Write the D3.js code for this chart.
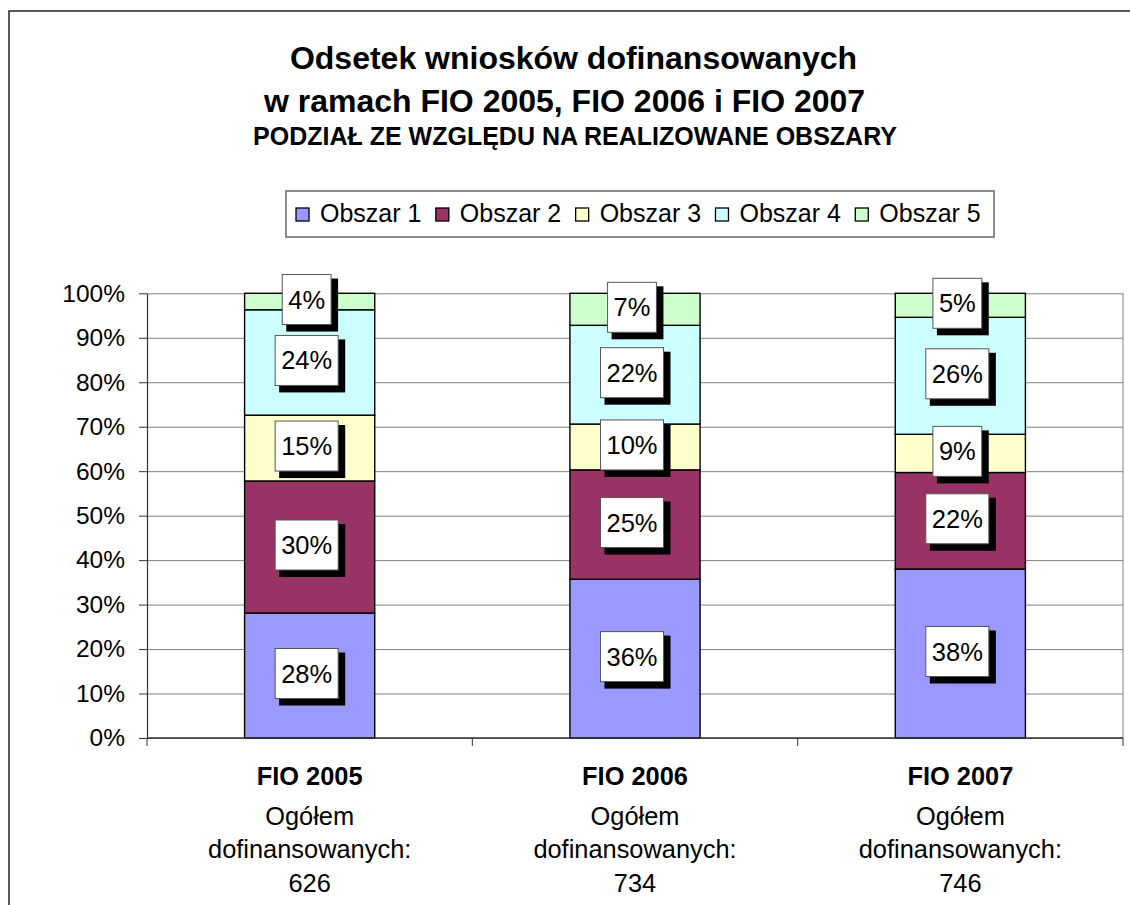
<!DOCTYPE html>
<html>
<head>
  <meta charset="utf-8">
  <script src="https://d3js.org/d3.v7.min.js"></script>
  <style>
  body {
    margin: 0;
    background: #fff;
  }
  text {
    font-family: Arial, "Liberation Sans", sans-serif;
    fill: #000;
  }
  .grid line {
    stroke: #808080;
  }
</style>
</head>
<body>
<script>

  // data
  var categories = ["FIO 2005", "FIO 2006", "FIO 2007"];
  var totals = [626, 734, 746];
  var seriesNames = ["Obszar 1", "Obszar 2", "Obszar 3", "Obszar 4", "Obszar 5"];
  var obszar1 = [28.1, 35.7, 38.0];
  var obszar2 = [29.7, 24.6, 21.7];
  var obszar3 = [14.8, 10.3, 8.6];
  var obszar4 = [23.7, 22.2, 26.3];
  var obszar5 = [3.7, 7.2, 5.4];
  var yTicks = [0, 10, 20, 30, 40, 50, 60, 70, 80, 90, 100];
  var colors = ["#9999ff", "#993366", "#ffffcc", "#ccffff", "#ccffcc"];

  var W = 1130, H = 905;
  var plot = {left: 147, right: 1123, top: 293.3, bottom: 738};

  var svg = d3.select("body").append("svg")
    .attr("width", W)
    .attr("height", H);

  svg.append("rect").attr("width", W).attr("height", H).attr("fill", "#fff");

  // outer chart border (runs off the picture right and bottom)
  svg.append("rect")
    .attr("x", 9).attr("y", 11)
    .attr("width", 1200).attr("height", 1000)
    .attr("fill", "none")
    .attr("stroke", "#222")
    .attr("stroke-width", 1.5);

  // titles
  svg.append("text").attr("x", 573.5).attr("y", 69)
    .attr("text-anchor", "middle").style("font-size", "32px").style("font-weight", "bold")
    .text("Odsetek wniosków dofinansowanych");
  svg.append("text").attr("x", 564.5).attr("y", 111.5)
    .attr("text-anchor", "middle").style("font-size", "32px").style("font-weight", "bold")
    .text("w ramach FIO 2005, FIO 2006 i FIO 2007");
  svg.append("text").attr("x", 575).attr("y", 144.5)
    .attr("text-anchor", "middle").style("font-size", "25px").style("font-weight", "bold")
    .text("PODZIAŁ ZE WZGLĘDU NA REALIZOWANE OBSZARY");

  // scales
  var x = d3.scaleBand().domain(categories)
    .range([plot.left, plot.right])
    .paddingInner(0.6).paddingOuter(0.3);
  var y = d3.scaleLinear().domain([0, 100]).range([plot.bottom, plot.top]);

  // gridlines
  svg.append("g")
    .attr("class", "grid")
    .attr("transform", "translate(" + plot.left + ",0)")
    .call(d3.axisLeft(y).tickValues(yTicks).tickSize(-(plot.right - plot.left)).tickFormat(""))
    .call(g => g.select(".domain").remove());

  // plot area right edge
  svg.append("line")
    .attr("x1", plot.right).attr("x2", plot.right)
    .attr("y1", y(100)).attr("y2", y(0))
    .attr("stroke", "#808080");

  // y axis
  var yAxis = svg.append("g")
    .attr("transform", "translate(" + plot.left + ",0)")
    .call(d3.axisLeft(y).tickValues(yTicks).tickSize(8).tickSizeOuter(0).tickPadding(14)
      .tickFormat(d => d + "%"));
  yAxis.select(".domain").attr("stroke", "#333").attr("stroke-width", 1.2);
  yAxis.selectAll(".tick line").attr("stroke", "#333");
  yAxis.selectAll("text").style("font-size", "24.5px").attr("fill", "#000").attr("font-family", null);

  // stacked bars
  var rows = categories.map((c, i) => ({
    cat: c,
    "Obszar 1": obszar1[i], "Obszar 2": obszar2[i], "Obszar 3": obszar3[i],
    "Obszar 4": obszar4[i], "Obszar 5": obszar5[i]
  }));
  var stacked = d3.stack().keys(seriesNames)(rows);

  var layers = svg.selectAll(".layer")
    .data(stacked)
    .enter().append("g")
    .attr("class", "layer")
    .attr("fill", (d, i) => colors[i]);

  layers.selectAll("rect")
    .data(d => d)
    .enter().append("rect")
    .attr("x", d => x(d.data.cat))
    .attr("width", x.bandwidth())
    .attr("y", d => y(d[1]))
    .attr("height", d => y(d[0]) - y(d[1]))
    .attr("stroke", "#000")
    .attr("stroke-width", 1.4);

  // x axis line and ticks at category borders
  svg.append("line")
    .attr("x1", plot.left).attr("x2", plot.right)
    .attr("y1", y(0)).attr("y2", y(0))
    .attr("stroke", "#333").attr("stroke-width", 1.3);
  var borders = d3.range(categories.length + 1).map(i => plot.left + i * x.step());
  svg.selectAll(".xtick")
    .data(borders)
    .enter().append("line")
    .attr("class", "xtick")
    .attr("x1", d => d).attr("x2", d => d)
    .attr("y1", y(0)).attr("y2", y(0) + 8)
    .attr("stroke", "#333");

  // category labels
  var xl = svg.selectAll(".xlabel")
    .data(categories)
    .enter().append("g")
    .attr("class", "xlabel")
    .attr("transform", d => "translate(" + (x(d) + x.bandwidth() / 2) + ",0)");
  xl.append("text").attr("y", 784.5).attr("text-anchor", "middle")
    .style("font-size", "25.4px").style("font-weight", "bold").text(d => d);
  xl.append("text").attr("y", 824.5).attr("text-anchor", "middle")
    .style("font-size", "25.4px").text("Ogółem");
  xl.append("text").attr("y", 858.3).attr("text-anchor", "middle")
    .style("font-size", "25.4px").text("dofinansowanych:");
  xl.append("text").attr("y", 892).attr("text-anchor", "middle")
    .style("font-size", "25.4px").text((d, i) => totals[i]);

  // data labels in boxes with shadow
  var fmt = d => Math.round(d) + "%";
  var segs = [];
  stacked.forEach(s => s.forEach(d => segs.push({
    cx: x(d.data.cat) + x.bandwidth() / 2 - 3,
    cy: (y(d[0]) + y(d[1])) / 2 - 2,
    label: fmt(d[1] - d[0])
  })));

  var lab = svg.selectAll(".dlabel")
    .data(segs)
    .enter().append("g")
    .attr("class", "dlabel")
    .attr("transform", d => "translate(" + d.cx + "," + d.cy + ")");
  var shadow = lab.append("rect").attr("fill", "#000");
  var box = lab.append("rect").attr("fill", "#fff").attr("stroke", "#555").attr("stroke-width", 1);
  var ltext = lab.append("text")
    .attr("text-anchor", "middle")
    .attr("y", 9)
    .style("font-size", "25.5px")
    .text(d => d.label);
  ltext.each(function(d) { d.w = this.getComputedTextLength() + 12; });
  box.attr("x", d => -d.w / 2).attr("y", -25).attr("width", d => d.w).attr("height", 50);
  shadow.attr("x", d => -d.w / 2 + 4).attr("y", -21).attr("width", d => d.w + 3).attr("height", 53);

  // legend
  svg.append("rect")
    .attr("x", 286).attr("y", 191)
    .attr("width", 708).attr("height", 46)
    .attr("fill", "#fff").attr("stroke", "#666").attr("stroke-width", 1.5);
  var lx = d3.scaleLinear().domain([0, 4]).range([296, 855.3]);
  var leg = svg.selectAll(".legend")
    .data(seriesNames)
    .enter().append("g")
    .attr("class", "legend")
    .attr("transform", (d, i) => "translate(" + lx(i) + ",208)");
  leg.append("rect")
    .attr("width", 13).attr("height", 13)
    .attr("fill", (d, i) => colors[i])
    .attr("stroke", "#000").attr("stroke-width", 1.3);
  leg.append("text")
    .attr("x", 24).attr("y", 14)
    .style("font-size", "25px")
    .text(d => d);

</script>
</body>
</html>
